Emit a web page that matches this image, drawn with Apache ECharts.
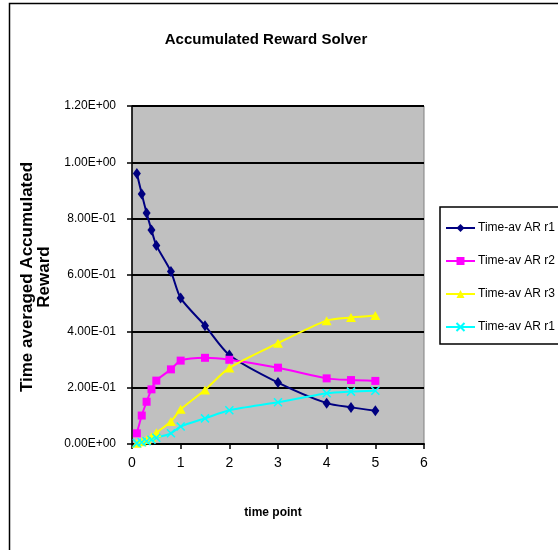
<!DOCTYPE html>
<html>
<head>
<meta charset="utf-8">
<script src="https://cdn.jsdelivr.net/npm/echarts@6/dist/echarts.min.js"></script>
<style>
  html, body { margin: 0; padding: 0; background: #fff; }
  #chart { width: 558px; height: 550px; }
</style>
</head>
<body>
<div id="chart"></div>
<script>
// Time points and time-averaged accumulated reward for each reward structure
var timePoints = [0.1, 0.2, 0.3, 0.4, 0.5, 0.8, 1, 1.5, 2, 3, 4, 4.5, 5];
var arR1 = [0.96, 0.888, 0.82, 0.76, 0.705, 0.612, 0.518, 0.42, 0.316, 0.218, 0.145, 0.13, 0.118];
var arR2 = [0.038, 0.101, 0.15, 0.194, 0.225, 0.265, 0.296, 0.306, 0.299, 0.271, 0.233, 0.227, 0.224];
var arR3 = [0.003, 0.008, 0.015, 0.025, 0.04, 0.08, 0.123, 0.192, 0.27, 0.358, 0.438, 0.449, 0.456];
var arR1b = [0.003, 0.006, 0.01, 0.015, 0.022, 0.038, 0.062, 0.091, 0.12, 0.148, 0.18, 0.186, 0.189];

var seriesNames = ['Time-av AR r1', 'Time-av AR r2', 'Time-av AR r3', 'Time-av AR r1 '];
var titleText = 'Accumulated Reward Solver';
var xTitle = 'time point';
var yTitle = 'Time averaged Accumulated\nReward';

var sans = '"Liberation Sans", Arial, sans-serif';

function pairs(ys) {
  return timePoints.map(function (t, i) { return [t, ys[i]]; });
}

// Excel-style scientific notation: 1.20E+00
function sci(v) {
  if (v === 0) return '0.00E+00';
  var e = Math.floor(Math.log10(Math.abs(v)) + 1e-9);
  var m = v / Math.pow(10, e);
  var sign = e < 0 ? '-' : '+';
  var ae = Math.abs(e);
  return m.toFixed(2) + 'E' + sign + (ae < 10 ? '0' + ae : ae);
}

var crossPath = 'path://M0,0L10,10M10,0L0,10';

function lineSeries(name, ys, color, symbol, size, extra) {
  var s = {
    name: name,
    type: 'line',
    data: pairs(ys),
    smooth: 0.25,
    symbol: symbol,
    symbolSize: size,
    showAllSymbol: true,
    lineStyle: { color: color, width: 2 },
    itemStyle: { color: color },
    emphasis: { disabled: true },
    animation: false
  };
  if (extra) Object.assign(s.itemStyle, extra);
  return s;
}

var chart = echarts.init(document.getElementById('chart'), null, { renderer: 'canvas' });

chart.setOption({
  backgroundColor: '#ffffff',
  animation: false,
  grid: {
    left: 132, top: 106, width: 292, height: 338,
    show: true, backgroundColor: '#c0c0c0', borderColor: '#808080', borderWidth: 1
  },
  xAxis: {
    type: 'value', min: 0, max: 6, interval: 1,
    axisLine: { show: true, onZero: false, lineStyle: { color: '#000', width: 2 } },
    axisTick: { show: true, inside: false, length: 5, lineStyle: { color: '#000', width: 1.5 } },
    axisLabel: { color: '#000', fontFamily: sans, fontSize: 14, margin: 12 },
    splitLine: { show: false }
  },
  yAxis: {
    type: 'value', min: 0, max: 1.2, interval: 0.2,
    axisLine: { show: true, lineStyle: { color: '#000', width: 1.5 } },
    axisTick: { show: true, inside: false, length: 5, lineStyle: { color: '#000', width: 1.5 } },
    axisLabel: { color: '#000', fontFamily: sans, fontSize: 12, margin: 16, formatter: sci },
    splitLine: { show: true, lineStyle: { color: '#000', width: 2 } }
  },
  legend: {
    orient: 'vertical',
    left: 440, top: 207,
    padding: [14, 30, 10, 5],
    itemWidth: 29, itemHeight: 10, itemGap: 19,
    borderColor: '#000', borderWidth: 1.5, backgroundColor: '#ffffff',
    textStyle: { color: '#000', fontFamily: sans, fontSize: 12, lineHeight: 14, padding: [0, 0, 0, -2] },
    data: seriesNames,
    selectedMode: false
  },
  series: [
    lineSeries(seriesNames[0], arR1, '#000080', 'diamond', [8, 11]),
    lineSeries(seriesNames[1], arR2, '#ff00ff', 'rect', 8),
    lineSeries(seriesNames[2], arR3, '#ffff00', 'triangle', [10, 9]),
    lineSeries(seriesNames[3], arR1b, '#00ffff', crossPath, 8, { borderColor: '#00ffff', borderWidth: 1.5 })
  ],
  graphic: [
    {
      type: 'rect', silent: true, z: -1,
      shape: { x: 9.5, y: 3.5, width: 600, height: 600 },
      style: { fill: 'none', stroke: '#000', lineWidth: 1.5 }
    },
    {
      type: 'text', x: 266, y: 40,
      style: { text: titleText, font: 'bold 15px ' + sans, fill: '#000', textAlign: 'center', textVerticalAlign: 'middle' }
    },
    {
      type: 'text', x: 273, y: 513,
      style: { text: xTitle, font: 'bold 12px ' + sans, fill: '#000', textAlign: 'center', textVerticalAlign: 'middle' }
    },
    {
      type: 'text', x: 36, y: 277, rotation: Math.PI / 2,
      style: { text: yTitle, font: 'bold 17px ' + sans, fill: '#000', textAlign: 'center', textVerticalAlign: 'middle', lineHeight: 17 }
    }
  ]
});
</script>
</body>
</html>
